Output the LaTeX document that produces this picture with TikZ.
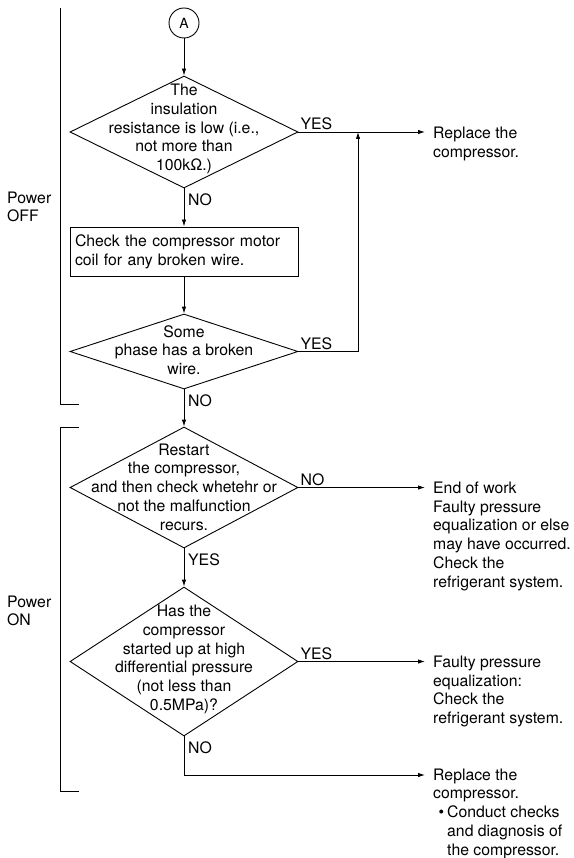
\documentclass[tikz,border=0pt]{standalone}
\usepackage{fontspec}
\setmainfont{TeX Gyre Heros}
\usetikzlibrary{arrows.meta, shapes.geometric}
\newcommand{\flowfont}{\fontsize{15.8pt}{18.7pt}\selectfont}
\tikzset{
  decision/.style={draw, diamond, line width=0.9pt, inner sep=0pt, minimum width=228pt},
  dtext/.style={align=center, inner sep=0pt, font=\flowfont},
  checkbox/.style={draw, rectangle, line width=0.9pt, text width=218pt, align=left, inner xsep=5pt, inner ysep=0pt, minimum height=49pt, font=\flowfont},
  connector/.style={draw, circle, line width=0.9pt, minimum size=30pt, inner sep=0pt, font=\fontsize{14pt}{16pt}\selectfont},
  result/.style={anchor=base west, align=left, inner sep=0pt, font=\flowfont},
  sidetext/.style={anchor=west, align=left, inner sep=0pt, font=\flowfont},
  sidelabel/.style={anchor=south west, inner sep=2pt, font=\flowfont},
  downlabel/.style={anchor=north west, inner xsep=4pt, inner ysep=5pt, font=\flowfont},
  flow/.style={-{Latex[length=7pt, width=4.5pt]}, line width=0.9pt},
  toresult/.style={flow, shorten >=8pt},
  bracket/.style={line width=0.9pt}
}
\begin{document}
\begin{tikzpicture}[x=1pt, y=-1pt]
\useasboundingbox (0,0) rectangle (573,858);

% power brackets
\node[sidetext] (off) at (7,207) {Power\\OFF};
\node[sidetext] (on) at (7,611) {Power\\ON};
\draw[bracket] (60,8) -- (60,404) -- (79,404);
\draw[bracket] (79,427) -- (60,427) -- (60,791) -- (79,791);

% main column
\node[connector] (A) at (184,23) {A};
\node[decision, minimum height=112pt] (d1) at (184,132) {};
\node[dtext] (d1txt) at (184,129) {The\\insulation\\resistance is low (i.e.,\\not more than\\100kΩ.)};
\node[checkbox] (chk) at (184,251.5) {Check the compressor motor\\coil for any broken wire.};
\node[decision, minimum height=75pt] (d2) at (184,351.5) {};
\node[dtext] (d2txt) at (184,350) {Some\\phase has a broken\\wire.};
\node[decision, minimum height=121pt] (d3) at (184,487.5) {};
\node[dtext] (d3txt) at (184,487) {Restart\\the compressor,\\and then check whetehr or\\not the malfunction\\recurs.};
\node[decision, minimum height=149pt] (d4) at (184,661.5) {};
\node[dtext] (d4txt) at (184,659.5) {Has the\\compressor\\started up at high\\differential pressure\\(not less than\\0.5MPa)?};

% results (base = last line)
\node[result] (r1) at (433,157.2) {Replace the\\compressor.};
\node[result] (r2) at (433,587) {End of work\\Faulty pressure\\equalization or else\\may have occurred.\\Check the\\refrigerant system.};
\node[result] (r3) at (433,723.6) {Faulty pressure\\equalization:\\Check the\\refrigerant system.};
\node[result] (r4) at (433,855) {Replace the\\compressor.\\\hspace*{14pt}\llap{•\kern3pt}Conduct checks\\\hspace*{14pt}and diagnosis of\\\hspace*{14pt}the compressor.};

\coordinate (j1) at (358,132);
\coordinate (n4) at (184,775);

% connectors
\draw[flow] (A) -- (d1);
\draw[flow] (d1) -- (chk);
\draw[flow] (chk) -- (d2);
\draw[flow] (d2) -- (d3);
\draw[flow] (d3) -- (d4);
\draw[toresult] (d1.east) -- (d1.east -| r1.west);
\draw[flow] (d2.east) -| (j1);
\draw[toresult] (d3.east) -- (d3.east -| r2.west);
\draw[toresult] (d4.east) -- (d4.east -| r3.west);
\draw[toresult] (d4.south) -- (n4) -- (n4 -| r4.west);

% branch labels
\node[sidelabel] (y1) at (d1.east) {YES};
\node[downlabel] (n1) at (d1.south) {NO};
\node[sidelabel] (y2) at (d2.east) {YES};
\node[downlabel] (n2) at (d2.south) {NO};
\node[sidelabel] (n3) at (d3.east) {NO};
\node[downlabel] (y3) at (d3.south) {YES};
\node[sidelabel] (y4) at (d4.east) {YES};
\node[downlabel] (n5) at (d4.south) {NO};
\end{tikzpicture}
\end{document}
